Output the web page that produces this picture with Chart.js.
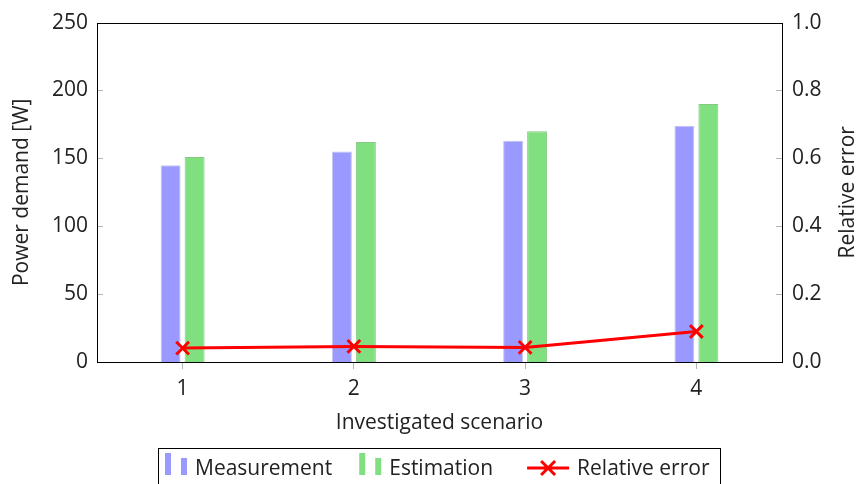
<!DOCTYPE html>
<html>
<head>
<meta charset="utf-8">
<script src="https://cdn.jsdelivr.net/npm/chart.js@4.4.0/dist/chart.umd.min.js"></script>
<style>
    html, body { margin: 0; padding: 0; background: #fff; }
    #wrap { width: 860px; height: 484px; }
</style>
</head>
<body>
<div id="wrap"><canvas id="power-chart"></canvas></div>
<script>
// Scenario data
const scenarios = ['1', '2', '3', '4'];
const measuredPower = [145, 155, 163, 174];
const estimatedPower = [151, 162, 170, 190];
const relativeError = [0.041, 0.046, 0.043, 0.090];

// Axis ticks
const powerTicks = [0, 50, 100, 150, 200, 250];
const errorTicks = [0, 0.2, 0.4, 0.6, 0.8, 1.0];

const FONT = "'Open Sans', sans-serif";
const FONT_SIZE = 21;
const TEXT = '#222';

// Frame around the plot, inner tick marks and the right axis title
const framePlugin = {
    id: 'frame',
    afterDatasetsDraw(chart) {
        const {ctx, chartArea: a, scales} = chart;
        ctx.save();
        ctx.strokeStyle = '#b4b4b4';
        ctx.lineWidth = 1;
        ctx.beginPath();
        powerTicks.forEach(v => {
            const y = Math.round(scales.y.getPixelForValue(v)) + 0.5;
            ctx.moveTo(a.left, y);
            ctx.lineTo(a.left + 6, y);
        });
        errorTicks.forEach(v => {
            const y = Math.round(scales.y1.getPixelForValue(v)) + 0.5;
            ctx.moveTo(a.right - 6, y);
            ctx.lineTo(a.right, y);
        });
        ctx.stroke();

        ctx.strokeStyle = '#000';
        ctx.strokeRect(Math.round(a.left) + 0.5, Math.round(a.top) + 0.5,
            Math.round(a.right - a.left), Math.round(a.bottom - a.top));

        // right axis title reads bottom to top like the left one
        ctx.fillStyle = TEXT;
        ctx.font = FONT_SIZE + 'px ' + FONT;
        ctx.textAlign = 'center';
        ctx.textBaseline = 'middle';
        ctx.translate(chart.width - 12, (a.top + a.bottom) / 2);
        ctx.rotate(-Math.PI / 2);
        ctx.fillText('Relative error', 0, 0);
        ctx.restore();
    }
};

// Boxed legend below the x axis title
const boxLegendPlugin = {
    id: 'boxLegend',
    afterDraw(chart) {
        const {ctx, chartArea: a} = chart;
        const sets = chart.data.datasets;
        const gaps = [27, 34];
        const padL = 7, padR = 11, iconGap = 8;
        const top = a.bottom + 86;
        const base = a.bottom + 113;

        ctx.save();
        ctx.font = FONT_SIZE + 'px ' + FONT;
        const iconW = sets.map(ds => ds.type === 'line' ? 42 : 22);
        const textW = sets.map(ds => ctx.measureText(ds.label).width);
        let total = padL + padR;
        sets.forEach((ds, i) => {
            total += iconW[i] + iconGap + textW[i] + (i > 0 ? gaps[i - 1] : 0);
        });
        let x = Math.round((a.left + a.right) / 2 - total / 2);

        ctx.strokeStyle = '#000';
        ctx.lineWidth = 1;
        ctx.strokeRect(x + 0.5, top + 0.5, Math.round(total), chart.height);

        x += padL;
        sets.forEach((ds, i) => {
            if (i > 0) x += gaps[i - 1];
            if (ds.type === 'line') {
                const cy = base - 7;
                const cx = x + iconW[i] / 2;
                ctx.strokeStyle = ds.borderColor;
                ctx.lineWidth = 3;
                ctx.beginPath();
                ctx.moveTo(x, cy);
                ctx.lineTo(x + iconW[i], cy);
                ctx.moveTo(cx - 7, cy - 7);
                ctx.lineTo(cx + 7, cy + 7);
                ctx.moveTo(cx + 7, cy - 7);
                ctx.lineTo(cx - 7, cy + 7);
                ctx.stroke();
            } else {
                ctx.fillStyle = ds.backgroundColor;
                ctx.fillRect(x, base - 22, 6, 22);
                ctx.fillRect(x + 16, base - 17, 6, 17);
            }
            x += iconW[i] + iconGap;
            ctx.fillStyle = TEXT;
            ctx.textBaseline = 'alphabetic';
            ctx.fillText(ds.label, x, base);
            x += textW[i];
        });
        ctx.restore();
    }
};

const ctx = document.getElementById('power-chart').getContext('2d');

const powerChart = new Chart(ctx, {
    type: 'bar',
    data: {
        labels: scenarios,
        datasets: [{
            label: 'Measurement',
            data: measuredPower,
            backgroundColor: '#9999ff',
            borderColor: '#c4c4ec',
            borderWidth: 1,
            yAxisID: 'y',
            order: 1
        }, {
            label: 'Estimation',
            data: estimatedPower,
            backgroundColor: '#80e080',
            borderColor: '#86c886',
            borderWidth: 1,
            yAxisID: 'y',
            order: 1
        }, {
            type: 'line',
            label: 'Relative error',
            data: relativeError,
            borderColor: '#ff0000',
            backgroundColor: '#ff0000',
            borderWidth: 3,
            pointStyle: 'crossRot',
            pointRadius: 9,
            pointBorderWidth: 3,
            tension: 0,
            yAxisID: 'y1',
            order: 0
        }]
    },
    options: {
        responsive: true,
        maintainAspectRatio: false,
        animation: false,
        layout: {
            padding: { top: 20, right: 0, bottom: 30, left: 0 }
        },
        datasets: {
            bar: {
                categoryPercentage: 0.28,
                barPercentage: 0.833
            }
        },
        plugins: {
            tooltip: { enabled: false },
            legend: { display: false }
        },
        scales: {
            x: {
                afterFit: scale => { scale.height = 92; },
                grid: {
                    display: true,
                    offset: false,
                    drawOnChartArea: false,
                    drawTicks: true,
                    tickLength: 7,
                    color: '#b4b4b4'
                },
                border: { display: false },
                ticks: {
                    color: TEXT,
                    padding: 7,
                    font: { family: FONT, size: FONT_SIZE }
                },
                title: {
                    display: true,
                    text: 'Investigated scenario',
                    color: TEXT,
                    padding: { top: 0, bottom: 18 },
                    font: { family: FONT, size: FONT_SIZE }
                }
            },
            y: {
                position: 'left',
                min: 0,
                max: 250,
                afterFit: scale => { scale.width = 97; },
                afterBuildTicks: scale => { scale.ticks = powerTicks.map(v => ({ value: v })); },
                grid: { display: false, drawTicks: false },
                border: { display: false },
                ticks: {
                    color: TEXT,
                    padding: 9,
                    font: { family: FONT, size: FONT_SIZE }
                },
                title: {
                    display: true,
                    text: 'Power demand [W]',
                    color: TEXT,
                    padding: { top: 9, bottom: 0 },
                    font: { family: FONT, size: FONT_SIZE }
                }
            },
            y1: {
                position: 'right',
                min: 0,
                max: 1,
                afterFit: scale => { scale.width = 78; },
                afterBuildTicks: scale => { scale.ticks = errorTicks.map(v => ({ value: v })); },
                grid: { display: false, drawTicks: false },
                border: { display: false },
                ticks: {
                    color: TEXT,
                    padding: 10,
                    font: { family: FONT, size: FONT_SIZE },
                    callback: v => v.toFixed(1)
                }
            }
        }
    },
    plugins: [framePlugin, boxLegendPlugin]
});
</script>
</body>
</html>
